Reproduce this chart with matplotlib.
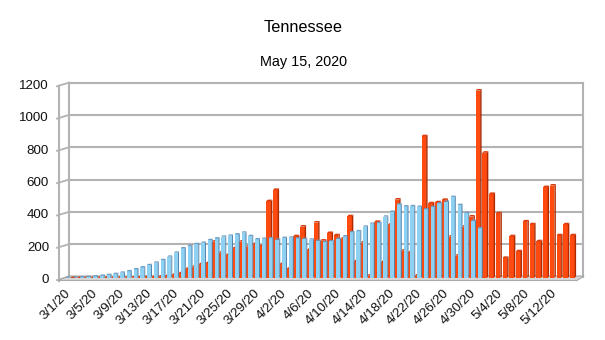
import datetime as dt
import matplotlib
matplotlib.use("Agg")
import matplotlib.pyplot as plt
from matplotlib.patches import Polygon

plt.rcParams['font.family'] = ['Liberation Sans', 'DejaVu Sans']

# DATA
start = dt.date(2020, 3, 1)
dates = [start + dt.timedelta(days=i) for i in range(75)]
date_labels = [f"{d.month}/{d.day}/20" for d in dates]

# orange series (daily reported), 3/1 .. 5/14
new_cases = [0, 0, 0, 0, 1, 0, 1, 1, 2, 2, 4, 6, 5, 8,
             12, 19, 29, 56, 70, 85, 91, 225, 157, 142, 184, 225, 194, 210, 198,
             475, 545, 86, 56, 258, 318, 173, 343, 231, 278, 264, 243, 382, 103, 219,
             15, 347, 98, 329, 485, 169, 158, 15, 877, 462, 468, 483, 256, 138, 318, 380,
             1160, 775, 520, 400, 124, 258, 165, 350, 332, 227, 562, 572, 264, 332, 264]

# light blue series, 3/1 .. 5/1
onset_cases = [2, 3, 4, 6, 10, 14, 19, 25, 33, 42, 54, 66, 80, 95,
               111, 132, 157, 184, 198, 210, 218, 235, 245, 256, 262, 270, 281, 260, 240,
               243, 246, 238, 248, 250, 245, 242, 238, 230, 222, 228, 242, 258, 283, 290,
               318, 336, 340, 380, 410, 455, 443, 445, 441, 425, 440, 462, 472, 502, 452, 402,
               354, 308]

y_ticks = [0, 200, 400, 600, 800, 1000, 1200]
title = "Tennessee"
subtitle = "May 15, 2020"

# LAYOUT (pixel helpers, 605x340 canvas)
W, H = 605, 340
DAY_PX = 6.75       # pixels per day
VAL_PX = 6.19       # value units per pixel
X0, Y0 = 68.5, 278  # pixel of day 0 / value 0


def P(x, y):
    return ((x - X0) / DAY_PX, (Y0 - y) * VAL_PX)


fig = plt.figure(figsize=(W / 100, H / 100), dpi=100)
ax = fig.add_axes([0, 0, 1, 1])
ax.set_xlim(P(0, 0)[0], P(W, 0)[0])
ax.set_ylim(P(0, H)[1], P(0, 0)[1])
ax.axis("off")

grid_c = "#b3b3b3"

# floor
ax.add_patch(Polygon([P(58, 280.5), P(577, 280.5), P(584, 276), P(69, 276)],
                     closed=True, facecolor="#d6d6d6", edgecolor="#a8a8a8", lw=0.8, zorder=1))

# back wall gridlines + diagonal ticks on left wall
for v in y_ticks:
    yb = 276.5 - v / VAL_PX
    ax.plot(*zip(P(69, yb), P(583, yb)), color=grid_c, lw=1.5, zorder=0.5)
    ax.plot(*zip(P(57, yb + 3.6), P(69, yb)), color=grid_c, lw=1.3, zorder=0.5)
    tx, ty = P(49, yb + 3.4)
    ax.text(tx, ty, str(v), ha="right", va="center", fontsize=9.6, color="#111111")

ax.plot(*zip(P(69, 82.5), P(69, 276.5)), color=grid_c, lw=1.5, zorder=0.5)
ax.plot(*zip(P(59, 86), P(59, 280.5)), color=grid_c, lw=1.5, zorder=0.5)
ax.plot(*zip(P(583, 82.5), P(583, 276)), color=grid_c, lw=1.5, zorder=0.5)


def bar3d(x0, w, v, face, side, top, dx, dy, z):
    ax.add_patch(Polygon([(x0, 0), (x0 + w, 0), (x0 + w, v), (x0, v)],
                         closed=True, facecolor=face, edgecolor="none", zorder=z))
    ax.add_patch(Polygon([(x0 + w, 0), (x0 + w + dx, dy), (x0 + w + dx, v + dy), (x0 + w, v)],
                         closed=True, facecolor=side, edgecolor="none", zorder=z))
    ax.add_patch(Polygon([(x0, v), (x0 + w, v), (x0 + w + dx, v + dy), (x0 + dx, v + dy)],
                         closed=True, facecolor=top, edgecolor="none", zorder=z))


# orange bars (behind)
for i, v in enumerate(new_cases):
    bar3d(i + 0.30, 0.68, v, "#ff4a10", "#b02a00", "#d93a0b", 0.22, 10, 2)

# blue bars (front)
for i, v in enumerate(onset_cases):
    bar3d(i - 0.36, 0.59, v, "#8fd1f3", "#4f7fa6", "#6b9cc2", 0.14, 8, 3)

# x tick labels
for i in range(0, len(dates), 4):
    tx, ty = P(X0 + DAY_PX * i - 4, 287)
    ax.text(tx, ty, date_labels[i], rotation=45, rotation_mode="anchor",
            ha="right", va="top", fontsize=9.6, color="#111111")

fig.text(303 / W, 1 - 27 / H, title, ha="center", va="center", fontsize=11.7)
fig.text(303 / W, 1 - 62 / H, subtitle, ha="center", va="center", fontsize=10.4)

fig.savefig("out.png", dpi=100)
